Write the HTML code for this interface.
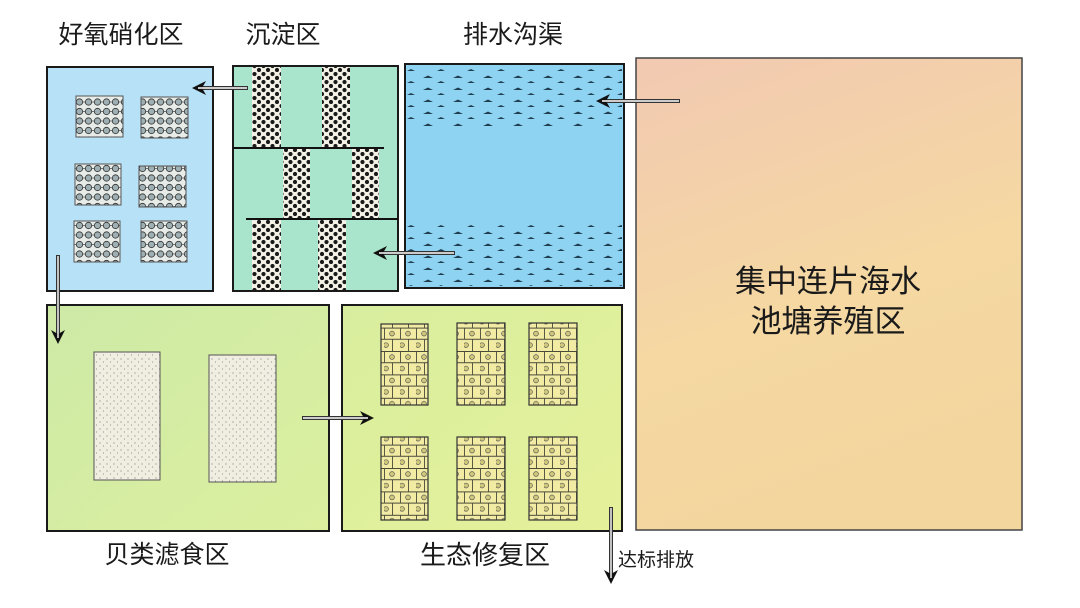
<!DOCTYPE html>
<html><head><meta charset="utf-8"><style>
html,body{margin:0;padding:0;background:#fff;}
svg{display:block;}
text{font-family:"Liberation Sans","Noto Sans CJK SC",sans-serif;fill:#1a1a1a;}
</style></head><body>
<svg width="1080" height="608" viewBox="0 0 1080 608" xmlns="http://www.w3.org/2000/svg">
<defs>
<linearGradient id="pond" x1="0" y1="0" x2="0.3" y2="1"><stop offset="0" stop-color="#f2c9b2"/><stop offset="0.6" stop-color="#f5d8a2"/><stop offset="1" stop-color="#f3d69e"/></linearGradient>
<linearGradient id="bival" x1="0" y1="0" x2="1" y2="1"><stop offset="0" stop-color="#cdeaa6"/><stop offset="1" stop-color="#dcef9f"/></linearGradient>
<linearGradient id="eco" x1="0" y1="0" x2="1" y2="1"><stop offset="0" stop-color="#d8ee9e"/><stop offset="1" stop-color="#e6f19a"/></linearGradient>
<pattern id="dots" width="9" height="8" patternUnits="userSpaceOnUse">
<rect width="9" height="8" fill="#f4f1e6"/>
<circle cx="2.5" cy="2" r="2.1" fill="#1a1a1a"/><circle cx="7" cy="6" r="2.1" fill="#1a1a1a"/></pattern>
<pattern id="beads" width="9" height="9.5" patternUnits="userSpaceOnUse" x="3" y="2">
<rect width="9" height="9.5" fill="#e8ece8"/>
<line x1="0" y1="5" x2="9" y2="5" stroke="#555" stroke-width="0.8"/>
<circle cx="4.5" cy="5" r="3.2" fill="#9fb0b4" stroke="#333" stroke-width="0.8"/></pattern>
<pattern id="waves" width="30" height="12" patternUnits="userSpaceOnUse">
<path d="M3 6 l5 -2.5 l5 2.5 z M17 11 l4 -2 l4 2z" fill="#1f3f50"/></pattern>
<pattern id="speck" width="7" height="7" patternUnits="userSpaceOnUse">
<rect width="7" height="7" fill="#efeee0"/><circle cx="2" cy="2" r="0.6" fill="#888"/><circle cx="5.5" cy="5" r="0.6" fill="#999"/></pattern>
<pattern id="grid" width="16" height="23.4" patternUnits="userSpaceOnUse">
<rect width="16" height="23.4" fill="#f1eba4"/>
<path d="M0 0.5 H16 M0 11.7 H16 M0.5 0 V11.7 M8.5 11.7 V23.4" stroke="#4a4a3a" stroke-width="0.9" fill="none"/>
<circle cx="8" cy="6" r="2.4" fill="#cfc77a" stroke="#555" stroke-width="0.7"/>
<circle cx="2" cy="17.5" r="2.4" fill="#cfc77a" stroke="#555" stroke-width="0.7"/></pattern>
<marker id="ah" markerWidth="14" markerHeight="14" refX="10" refY="7" orient="auto" markerUnits="userSpaceOnUse"><path d="M0 0 L14 7 L0 14 L4 7z" fill="#111"/></marker>
</defs>

<text x="121" y="43" font-size="25" text-anchor="middle">好氧硝化区</text>
<text x="283" y="43" font-size="25" text-anchor="middle">沉淀区</text>
<text x="513" y="43" font-size="25" text-anchor="middle">排水沟渠</text>

<rect x="47" y="67" width="166" height="224" fill="#b6e1f6" stroke="#1a1a1a" stroke-width="2"/>
<g stroke="#555" stroke-width="1">
<rect x="76" y="96" width="47" height="41" fill="url(#beads)"/>
<rect x="141" y="97" width="47" height="41" fill="url(#beads)"/>
<rect x="75" y="164" width="46" height="41" fill="url(#beads)"/>
<rect x="139" y="166" width="47" height="41" fill="url(#beads)"/>
<rect x="74" y="221" width="46" height="41" fill="url(#beads)"/>
<rect x="141" y="221" width="46" height="41" fill="url(#beads)"/>
</g>

<rect x="233" y="66" width="165" height="225" fill="#a9e4cd" stroke="#1a1a1a" stroke-width="2"/>
<rect x="252" y="67" width="29" height="81" fill="url(#dots)"/>
<rect x="322" y="67" width="28" height="81" fill="url(#dots)"/>
<rect x="283" y="149" width="27" height="69" fill="url(#dots)"/>
<rect x="352" y="149" width="27" height="69" fill="url(#dots)"/>
<rect x="252" y="219" width="29" height="71" fill="url(#dots)"/>
<rect x="318" y="219" width="28" height="71" fill="url(#dots)"/>
<line x1="233" y1="148" x2="384" y2="148" stroke="#111" stroke-width="2"/>
<line x1="246" y1="219" x2="398" y2="219" stroke="#111" stroke-width="2"/>

<rect x="405" y="64" width="219" height="224" fill="#8fd3f3" stroke="#1a1a1a" stroke-width="2"/>
<rect x="407" y="68" width="215" height="60" fill="url(#waves)"/>
<rect x="407" y="222" width="215" height="64" fill="url(#waves)"/>

<rect x="636" y="58" width="386" height="472" fill="url(#pond)" stroke="#444" stroke-width="1.5"/>
<text x="828" y="292" font-size="31" text-anchor="middle">集中连片海水</text>
<text x="828" y="332" font-size="31" text-anchor="middle">池塘养殖区</text>

<rect x="47" y="305" width="282" height="226" fill="url(#bival)" stroke="#1a1a1a" stroke-width="2"/>
<rect x="94" y="352" width="66" height="128" fill="url(#speck)" stroke="#555" stroke-width="1"/>
<rect x="209" y="355" width="67" height="127" fill="url(#speck)" stroke="#555" stroke-width="1"/>
<text x="167" y="563" font-size="25" text-anchor="middle">贝类滤食区</text>

<rect x="342" y="305" width="280" height="226" fill="url(#eco)" stroke="#1a1a1a" stroke-width="2"/>
<g stroke="#333" stroke-width="1.2">
<rect x="381" y="324" width="47" height="81" fill="url(#grid)"/>
<rect x="457" y="323" width="48" height="82" fill="url(#grid)"/>
<rect x="529" y="323" width="48" height="82" fill="url(#grid)"/>
<rect x="381" y="437" width="47" height="83" fill="url(#grid)"/>
<rect x="457" y="437" width="48" height="83" fill="url(#grid)"/>
<rect x="529" y="437" width="48" height="83" fill="url(#grid)"/>
</g>
<text x="485" y="564" font-size="26" text-anchor="middle">生态修复区</text>
<text x="618" y="566" font-size="19">达标排放</text>

<g stroke="#333" stroke-width="4" fill="none">
<line x1="248" y1="88" x2="196" y2="88" marker-end="url(#ah)"/>
<line x1="680" y1="101" x2="600" y2="101" marker-end="url(#ah)"/>
<line x1="455" y1="253" x2="377" y2="253" marker-end="url(#ah)"/>
<line x1="58" y1="255" x2="58" y2="340" marker-end="url(#ah)"/>
<line x1="302" y1="418" x2="370" y2="418" marker-end="url(#ah)"/>
<line x1="611" y1="507" x2="611" y2="580" marker-end="url(#ah)"/>
</g>
<g stroke="#fff" stroke-width="1.4" fill="none">
<line x1="247" y1="88" x2="198" y2="88"/>
<line x1="679" y1="101" x2="602" y2="101"/>
<line x1="454" y1="253" x2="379" y2="253"/>
<line x1="58" y1="256" x2="58" y2="338"/>
<line x1="303" y1="418" x2="368" y2="418"/>
<line x1="611" y1="508" x2="611" y2="578"/>
</g>
</svg>
</body></html>
